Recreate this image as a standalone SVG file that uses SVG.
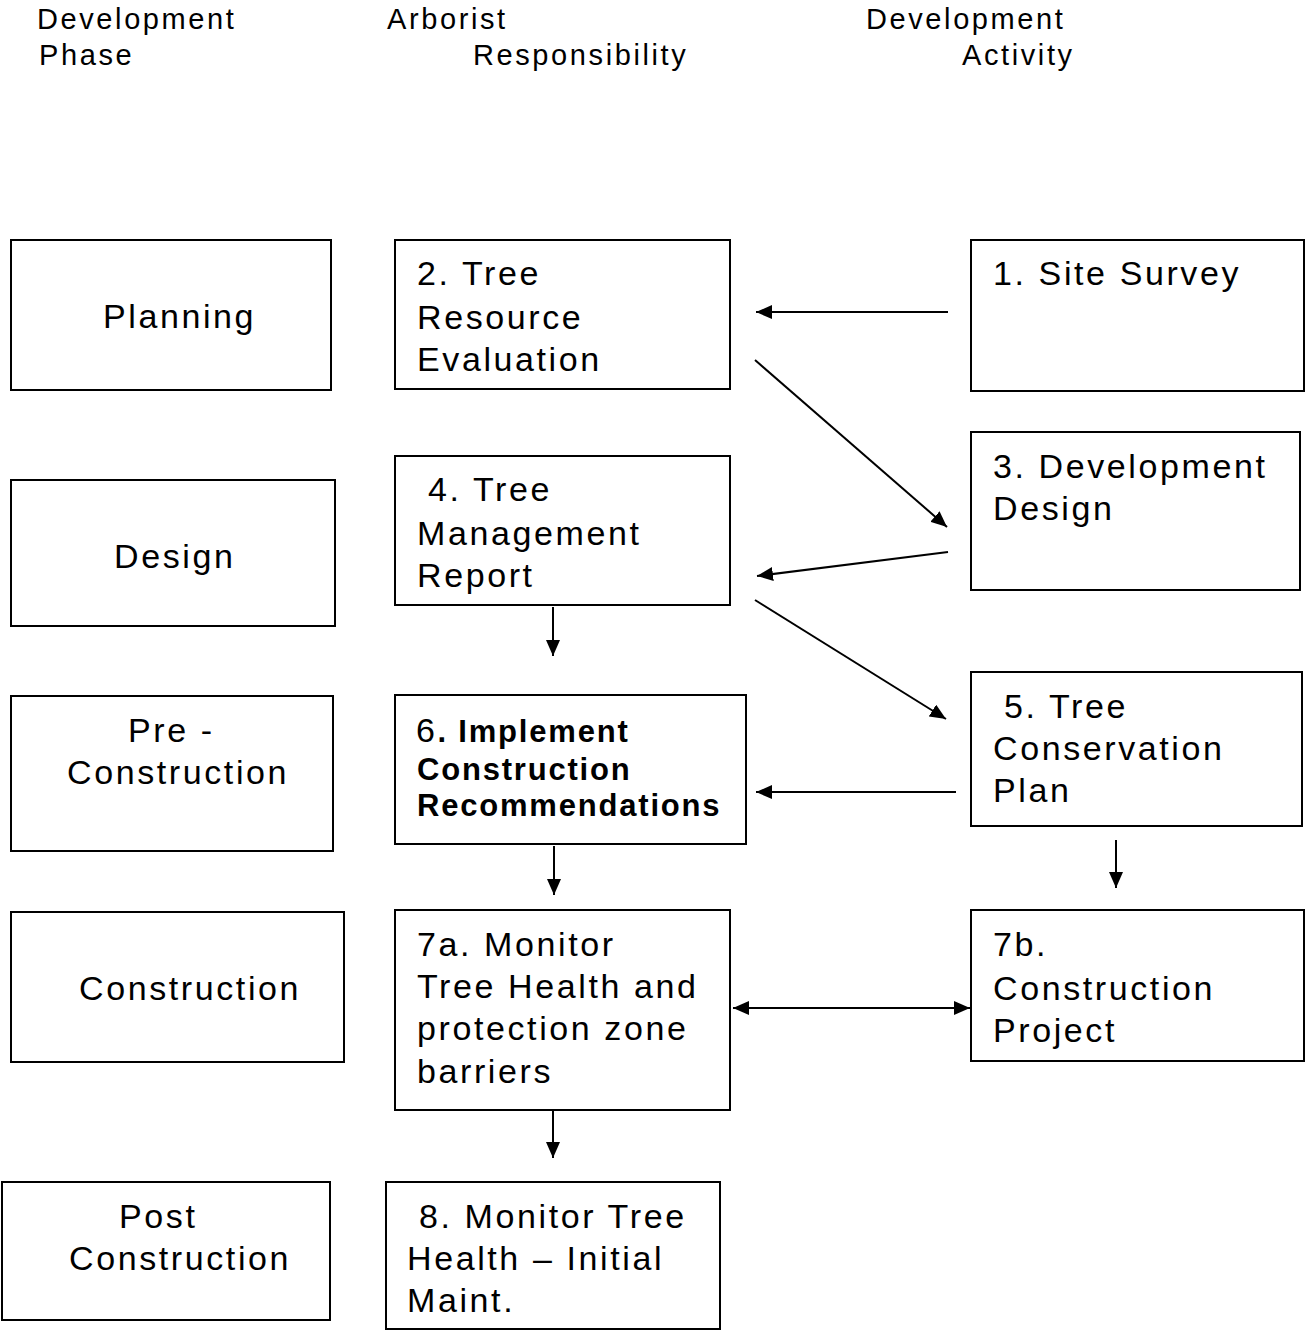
<svg xmlns="http://www.w3.org/2000/svg" width="1306" height="1330" viewBox="0 0 1306 1330">
<style>
.box{fill:#fff;stroke:#000;stroke-width:2}
.t{font-family:"Liberation Sans",Arial,sans-serif;font-size:34px;letter-spacing:2.6px;fill:#000}
.h{font-family:"Liberation Sans",Arial,sans-serif;font-size:29px;letter-spacing:2.6px;fill:#000}
.b{font-family:"Liberation Sans",Arial,sans-serif;font-size:31px;font-weight:bold;letter-spacing:1.8px;fill:#000}
.c{stroke:#000;stroke-width:2;fill:none}
</style>
<defs>
<marker id="ah" viewBox="0 0 16 14" refX="16" refY="7" markerWidth="16" markerHeight="14" markerUnits="userSpaceOnUse" orient="auto-start-reverse">
<path d="M0,0 L16,7 L0,14 Z" fill="#000"/>
</marker>
</defs>
<rect width="1306" height="1330" fill="#fff"/>
<g id="headers">
<text class="h" x="37" y="29">Development</text>
<text class="h" x="39" y="65">Phase</text>
<text class="h" x="387" y="29">Arborist</text>
<text class="h" x="473" y="65">Responsibility</text>
<text class="h" x="866" y="29">Development</text>
<text class="h" x="962" y="65">Activity</text>
</g>
<g id="planning"><rect class="box" x="11" y="240" width="320" height="150"/><text class="t" x="103" y="328">Planning</text></g>
<g id="design"><rect class="box" x="11" y="480" width="324" height="146"/><text class="t" x="114" y="568">Design</text></g>
<g id="preconstruction"><rect class="box" x="11" y="696" width="322" height="155"/><text class="t" x="128" y="742">Pre -</text><text class="t" x="67" y="784">Construction</text></g>
<g id="construction"><rect class="box" x="11" y="912" width="333" height="150"/><text class="t" x="79" y="1000">Construction</text></g>
<g id="postconstruction"><rect class="box" x="2" y="1182" width="328" height="138"/><text class="t" x="119" y="1228">Post</text><text class="t" x="69" y="1270">Construction</text></g>
<g id="n2"><rect class="box" x="395" y="240" width="335" height="149"/><text class="t" x="417" y="285">2. Tree</text><text class="t" x="417" y="329">Resource</text><text class="t" x="417" y="371">Evaluation</text></g>
<g id="n4"><rect class="box" x="395" y="456" width="335" height="149"/><text class="t" x="428" y="501">4. Tree</text><text class="t" x="417" y="545">Management</text><text class="t" x="417" y="587">Report</text></g>
<g id="n6"><rect class="box" x="395" y="695" width="351" height="149"/><text x="416" y="742"><tspan class="t">6</tspan><tspan class="b">. Implement</tspan></text><text class="b" x="417" y="780">Construction</text><text class="b" x="417" y="816">Recommendations</text></g>
<g id="n7a"><rect class="box" x="395" y="910" width="335" height="200"/><text class="t" x="417" y="956">7a. Monitor</text><text class="t" x="417" y="998">Tree Health and</text><text class="t" x="417" y="1040">protection zone</text><text class="t" x="417" y="1083">barriers</text></g>
<g id="n8"><rect class="box" x="386" y="1182" width="334" height="147"/><text class="t" x="419" y="1228">8. Monitor Tree</text><text class="t" x="407" y="1270">Health – Initial</text><text class="t" x="407" y="1312">Maint.</text></g>
<g id="n1"><rect class="box" x="971" y="240" width="333" height="151"/><text class="t" x="993" y="285">1. Site Survey</text></g>
<g id="n3"><rect class="box" x="971" y="432" width="329" height="158"/><text class="t" x="993" y="478">3. Development</text><text class="t" x="993" y="520">Design</text></g>
<g id="n5"><rect class="box" x="971" y="672" width="331" height="154"/><text class="t" x="1004" y="718">5. Tree</text><text class="t" x="993" y="760">Conservation</text><text class="t" x="993" y="802">Plan</text></g>
<g id="n7b"><rect class="box" x="971" y="910" width="333" height="151"/><text class="t" x="993" y="956">7b.</text><text class="t" x="993" y="1000">Construction</text><text class="t" x="993" y="1042">Project</text></g>
<g id="connectors">
<line class="c" x1="948" y1="312" x2="756" y2="312" marker-end="url(#ah)"/>
<line class="c" x1="755" y1="360" x2="947" y2="527" marker-end="url(#ah)"/>
<line class="c" x1="948" y1="552" x2="757" y2="576" marker-end="url(#ah)"/>
<line class="c" x1="553" y1="607" x2="553" y2="656" marker-end="url(#ah)"/>
<line class="c" x1="755" y1="600" x2="946" y2="719" marker-end="url(#ah)"/>
<line class="c" x1="956" y1="792" x2="756" y2="792" marker-end="url(#ah)"/>
<line class="c" x1="554" y1="846" x2="554" y2="895" marker-end="url(#ah)"/>
<line class="c" x1="1116" y1="840" x2="1116" y2="888" marker-end="url(#ah)"/>
<line class="c" x1="733" y1="1008" x2="970" y2="1008" marker-start="url(#ah)" marker-end="url(#ah)"/>
<line class="c" x1="553" y1="1111" x2="553" y2="1158" marker-end="url(#ah)"/>
</g>
</svg>
